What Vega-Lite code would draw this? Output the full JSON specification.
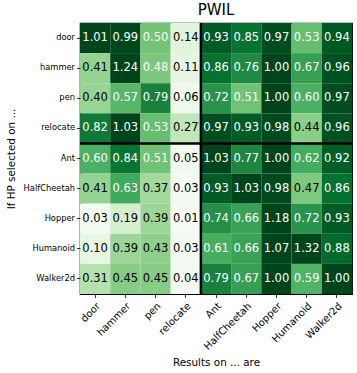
{
  "$schema": "https://vega.github.io/schema/vega-lite/v6.json",
  "autosize": {"type": "none"},
  "padding": {"left": 80, "top": 23, "right": 5, "bottom": 79},
  "width": 272,
  "height": 271,
  "title": {"text": "PWIL", "font": "DejaVu Sans", "fontSize": 15, "fontWeight": "normal", "color": "black", "offset": 4},
  "config": {
    "view": {"stroke": "black", "strokeWidth": 1.2},
    "axis": {
      "labelFont": "DejaVu Sans", "labelFontSize": 8.3, "labelColor": "black",
      "tickColor": "black", "tickSize": 3.5, "tickWidth": 0.8, "labelPadding": 2,
      "domain": false, "grid": false,
      "titleFont": "DejaVu Sans", "titleFontSize": 10.4, "titleFontWeight": "normal", "titleColor": "black"
    }
  },
  "data": {"values": [
    {"r":"door","c":"door","v":1.01},{"r":"door","c":"hammer","v":0.99},{"r":"door","c":"pen","v":0.50},{"r":"door","c":"relocate","v":0.14},{"r":"door","c":"Ant","v":0.93},{"r":"door","c":"HalfCheetah","v":0.85},{"r":"door","c":"Hopper","v":0.97},{"r":"door","c":"Humanoid","v":0.53},{"r":"door","c":"Walker2d","v":0.94},
    {"r":"hammer","c":"door","v":0.41},{"r":"hammer","c":"hammer","v":1.24},{"r":"hammer","c":"pen","v":0.48},{"r":"hammer","c":"relocate","v":0.11},{"r":"hammer","c":"Ant","v":0.86},{"r":"hammer","c":"HalfCheetah","v":0.76},{"r":"hammer","c":"Hopper","v":1.00},{"r":"hammer","c":"Humanoid","v":0.67},{"r":"hammer","c":"Walker2d","v":0.96},
    {"r":"pen","c":"door","v":0.40},{"r":"pen","c":"hammer","v":0.57},{"r":"pen","c":"pen","v":0.79},{"r":"pen","c":"relocate","v":0.06},{"r":"pen","c":"Ant","v":0.72},{"r":"pen","c":"HalfCheetah","v":0.51},{"r":"pen","c":"Hopper","v":1.00},{"r":"pen","c":"Humanoid","v":0.60},{"r":"pen","c":"Walker2d","v":0.97},
    {"r":"relocate","c":"door","v":0.82},{"r":"relocate","c":"hammer","v":1.03},{"r":"relocate","c":"pen","v":0.53},{"r":"relocate","c":"relocate","v":0.27},{"r":"relocate","c":"Ant","v":0.97},{"r":"relocate","c":"HalfCheetah","v":0.93},{"r":"relocate","c":"Hopper","v":0.98},{"r":"relocate","c":"Humanoid","v":0.44},{"r":"relocate","c":"Walker2d","v":0.96},
    {"r":"Ant","c":"door","v":0.60},{"r":"Ant","c":"hammer","v":0.84},{"r":"Ant","c":"pen","v":0.51},{"r":"Ant","c":"relocate","v":0.05},{"r":"Ant","c":"Ant","v":1.03},{"r":"Ant","c":"HalfCheetah","v":0.77},{"r":"Ant","c":"Hopper","v":1.00},{"r":"Ant","c":"Humanoid","v":0.62},{"r":"Ant","c":"Walker2d","v":0.92},
    {"r":"HalfCheetah","c":"door","v":0.41},{"r":"HalfCheetah","c":"hammer","v":0.63},{"r":"HalfCheetah","c":"pen","v":0.37},{"r":"HalfCheetah","c":"relocate","v":0.03},{"r":"HalfCheetah","c":"Ant","v":0.93},{"r":"HalfCheetah","c":"HalfCheetah","v":1.03},{"r":"HalfCheetah","c":"Hopper","v":0.98},{"r":"HalfCheetah","c":"Humanoid","v":0.47},{"r":"HalfCheetah","c":"Walker2d","v":0.86},
    {"r":"Hopper","c":"door","v":0.03},{"r":"Hopper","c":"hammer","v":0.19},{"r":"Hopper","c":"pen","v":0.39},{"r":"Hopper","c":"relocate","v":0.01},{"r":"Hopper","c":"Ant","v":0.74},{"r":"Hopper","c":"HalfCheetah","v":0.66},{"r":"Hopper","c":"Hopper","v":1.18},{"r":"Hopper","c":"Humanoid","v":0.72},{"r":"Hopper","c":"Walker2d","v":0.93},
    {"r":"Humanoid","c":"door","v":0.10},{"r":"Humanoid","c":"hammer","v":0.39},{"r":"Humanoid","c":"pen","v":0.43},{"r":"Humanoid","c":"relocate","v":0.03},{"r":"Humanoid","c":"Ant","v":0.61},{"r":"Humanoid","c":"HalfCheetah","v":0.66},{"r":"Humanoid","c":"Hopper","v":1.07},{"r":"Humanoid","c":"Humanoid","v":1.32},{"r":"Humanoid","c":"Walker2d","v":0.88},
    {"r":"Walker2d","c":"door","v":0.31},{"r":"Walker2d","c":"hammer","v":0.45},{"r":"Walker2d","c":"pen","v":0.45},{"r":"Walker2d","c":"relocate","v":0.04},{"r":"Walker2d","c":"Ant","v":0.79},{"r":"Walker2d","c":"HalfCheetah","v":0.67},{"r":"Walker2d","c":"Hopper","v":1.00},{"r":"Walker2d","c":"Humanoid","v":0.59},{"r":"Walker2d","c":"Walker2d","v":1.00}
  ]},
  "encoding": {
    "x": {"field": "c", "type": "nominal", "sort": ["door","hammer","pen","relocate","Ant","HalfCheetah","Hopper","Humanoid","Walker2d"],
      "scale": {"paddingInner": 0, "paddingOuter": 0},
      "axis": {"title": "Results on ... are", "labelAngle": -45, "labelAlign": "right", "labelBaseline": "top", "labelFontSize": 10, "labelPadding": 3, "titlePadding": 6}},
    "y": {"field": "r", "type": "nominal", "sort": ["door","hammer","pen","relocate","Ant","HalfCheetah","Hopper","Humanoid","Walker2d"],
      "scale": {"paddingInner": 0, "paddingOuter": 0},
      "axis": {"title": "If HP selected on ...", "titlePadding": 7}}
  },
  "layer": [
    {"mark": {"type": "rect"},
     "encoding": {"color": {"field": "v", "type": "quantitative", "legend": null,
       "scale": {"domain": [0, 1], "clamp": true, "interpolate": "rgb",
         "range": ["#f7fcf5","#e5f5e0","#c7e9c0","#a1d99b","#74c476","#41ab5d","#238b45","#006d2c","#00441b"]}}}},
    {"mark": {"type": "text", "font": "DejaVu Sans", "fontSize": 11.5},
     "encoding": {"text": {"field": "v", "type": "quantitative", "format": ".2f"},
       "color": {"condition": {"test": "datum.v > 0.475", "value": "white"}, "value": "black"}}},
    {"data": {"values": [{"c": "Ant"}]},
     "mark": {"type": "rule", "color": "black", "strokeWidth": 2.5},
     "encoding": {"x": {"field": "c", "type": "nominal", "bandPosition": 0}, "y": null}},
    {"data": {"values": [{"r": "Ant"}]},
     "mark": {"type": "rule", "color": "black", "strokeWidth": 2.5},
     "encoding": {"y": {"field": "r", "type": "nominal", "bandPosition": 0}, "x": null}}
  ]
}
